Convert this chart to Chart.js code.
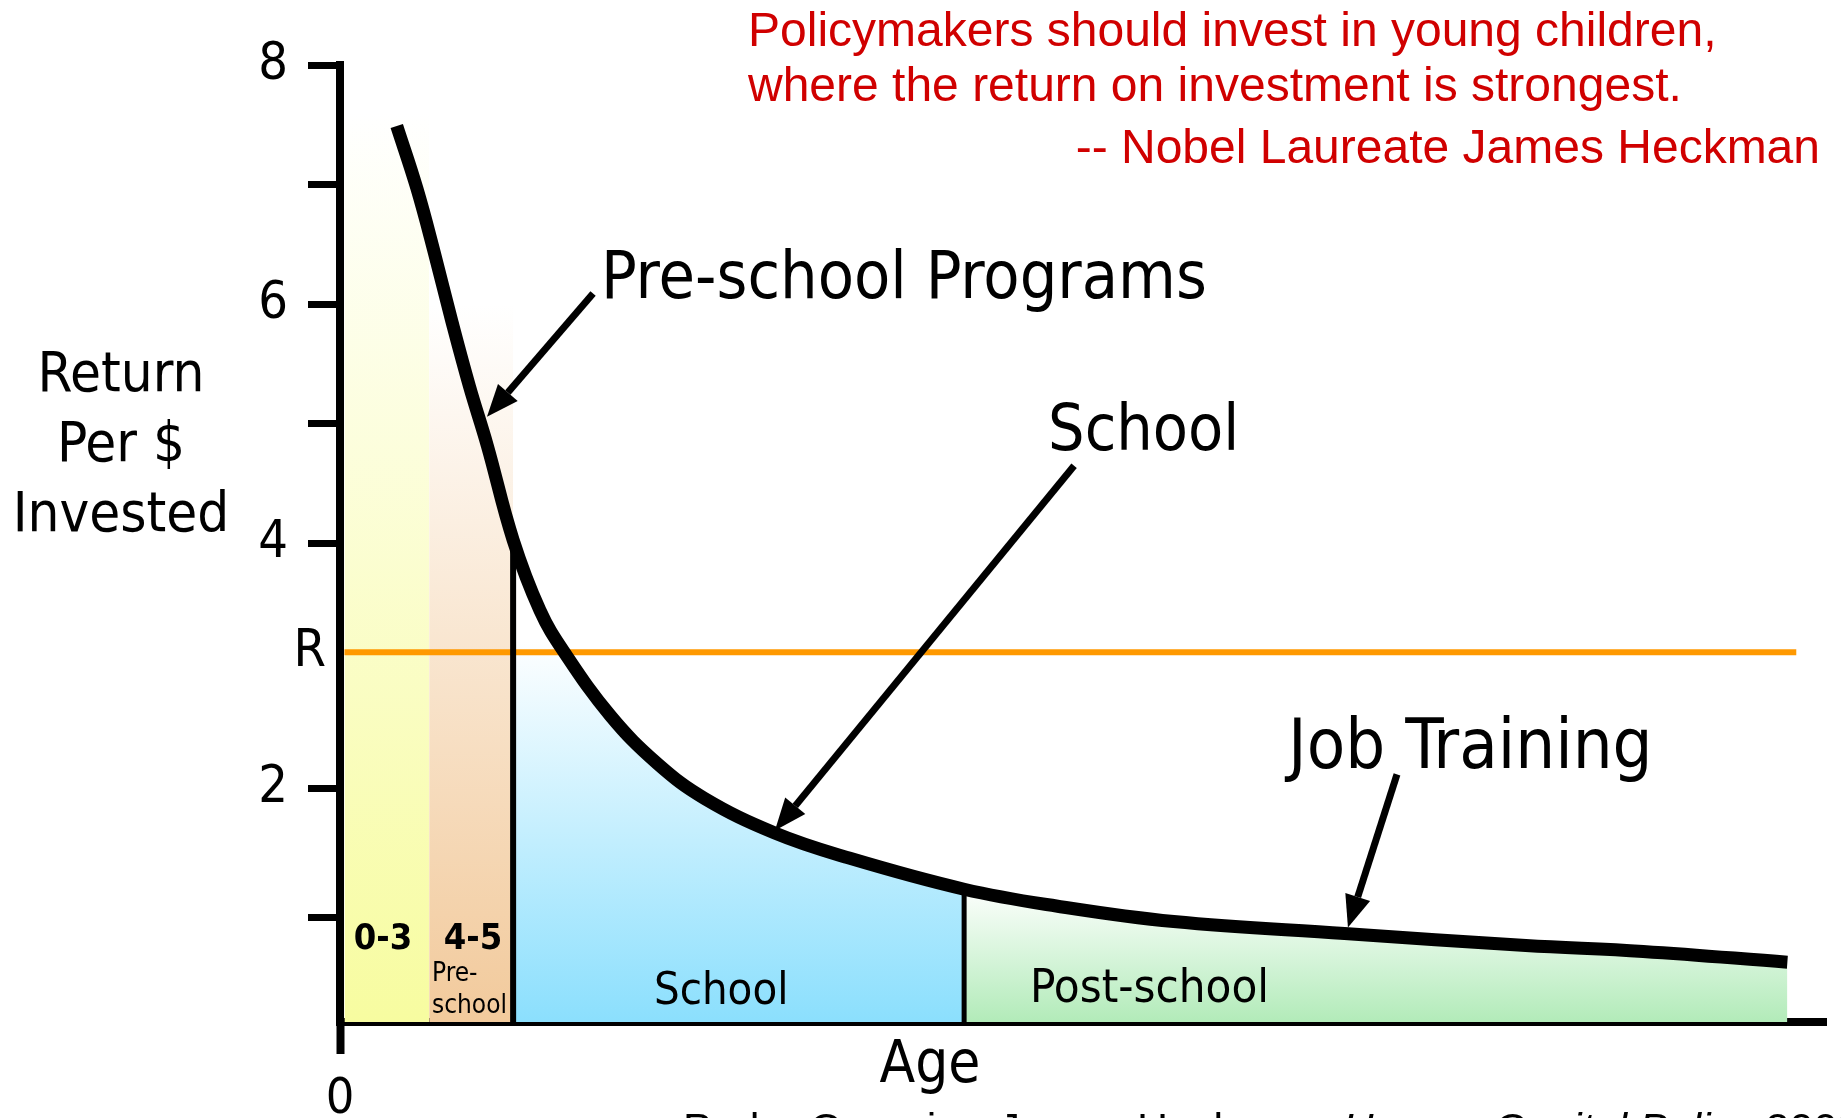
<!DOCTYPE html>
<html>
<head>
<meta charset="utf-8">
<title>Return per $ invested by age</title>
<script src="https://cdn.jsdelivr.net/npm/chart.js@4.4.1/dist/chart.umd.min.js"></script>
<style>
  html, body { margin: 0; padding: 0; background: #fff; }
  #wrap { width: 1841px; height: 1118px; }
</style>
</head>
<body>
<div id="wrap"><canvas id="chart" width="1841" height="1118"></canvas></div>
<script>
// ── Data ─────────────────────────────────────────────────────
const curveX = [3.82, 5.17, 6.35, 7.54, 8.72, 9.91, 11.65, 13.46, 15.04, 18.2, 21.36, 24.52, 29.26, 34.0, 42.0, 48.2, 56.1, 67.6, 79.8, 87.7, 97.4];
const curveY = [7.49, 6.97, 6.43, 5.85, 5.31, 4.82, 4.03, 3.44, 3.10, 2.56, 2.16, 1.87, 1.58, 1.38, 1.11, 0.97, 0.84, 0.74, 0.64, 0.59, 0.50];

const stageNames = ['0-3', '4-5', 'School', 'Post-school'];
const stageStart = [0.3, 6, 11.65, 42];
const stageEnd   = [6, 11.65, 42, 97.4];
const columnTop  = [7.6, 6.0];          // height of the two early-years columns

const returnR   = 3.09;                 // cost of funds "R"
const rLineEnd  = 98;

const yTickVals   = [0.87, 1.95, 4, 5, 6, 7, 8];
const yTickLabels = ['', '2', '4', '', '6', '', '8'];
const xTickVals   = [0];
const xTickLabels = ['0'];

// ── Helpers ──────────────────────────────────────────────────
const COND  = '"DejaVu Sans Condensed", "DejaVu Sans", sans-serif';
const ARIAL = '"Liberation Sans", Arial, sans-serif';

const curvePts = curveX.map((x, i) => ({ x, y: curveY[i] }));
const heightAt = x => curveY[curveX.indexOf(x)];
const between  = (a, b) => curvePts.filter(p => p.x >= a - 1e-6 && p.x <= b + 1e-6);

function gradient(top, stops) {
  return (c) => {
    const chart = c.chart, y = chart.scales.y;
    if (!chart.chartArea || !y) return stops[stops.length - 1][1];
    const g = chart.ctx.createLinearGradient(0, y.getPixelForValue(top), 0, y.getPixelForValue(0));
    stops.forEach(s => g.addColorStop(s[0], s[1]));
    return g;
  };
}

const yellowStops = [[0, '#ffffff'], [1, '#f7fca0']];
const peachStops  = [[0, '#ffffff'], [1, '#f2ca9c']];
const blueStops   = [[0, '#ffffff'], [1, '#8bdffd']];
const greenStops  = [[0, '#ffffff'], [1, '#b2ebb9']];

function areaSet(data, bg, order) {
  return { data, backgroundColor: bg, fill: 'origin', borderWidth: 0, pointRadius: 0, tension: 0.4, order };
}

function lineSet(data, color, width, order) {
  return {
    data, borderColor: color, borderWidth: width, fill: false,
    pointRadius: 0, borderCapStyle: 'butt', order
  };
}

// ── Annotation plugin (texts and arrows) ─────────────────────
function drawArrow(c, x1, y1, x2, y2) {
  const ang  = Math.atan2(y2 - y1, x2 - x1);
  const head = 32, half = 13;
  const bx = x2 - head * Math.cos(ang), by = y2 - head * Math.sin(ang);
  c.lineWidth = 7;
  c.lineCap = 'butt';
  c.beginPath(); c.moveTo(x1, y1); c.lineTo(bx, by); c.stroke();
  c.beginPath();
  c.moveTo(x2, y2);
  c.lineTo(bx + half * Math.sin(ang), by - half * Math.cos(ang));
  c.lineTo(bx - half * Math.sin(ang), by + half * Math.cos(ang));
  c.closePath(); c.fill();
}

const annotate = {
  id: 'annotate',
  afterDraw(chart) {
    const c = chart.ctx, xs = chart.scales.x, ys = chart.scales.y;
    const px = v => xs.getPixelForValue(v), py = v => ys.getPixelForValue(v);
    const text = (s, x, y, font, align, base, color) => {
      c.font = font; c.textAlign = align || 'left'; c.textBaseline = base || 'alphabetic';
      c.fillStyle = color || '#000'; c.fillText(s, x, y);
    };
    c.save();
    c.strokeStyle = '#000'; c.fillStyle = '#000';

    // arrows
    drawArrow(c, px(17.03), py(6.09), px(9.89), py(5.06));
    drawArrow(c, px(49.4), py(4.65), px(29.27), py(1.60));
    drawArrow(c, px(71.13), py(2.07), px(67.83), py(0.79));

    // callouts
    text('Pre-school Programs', px(17.56), py(6.05), '66px ' + COND);
    text('School', px(47.65), py(4.78), '64px ' + COND);
    text('Job Training', px(63.8), py(2.12), '70px ' + COND);

    // stage labels
    text(stageNames[0], px(2.9), py(0.69), 'bold 36px ' + COND, 'center', 'middle');
    text(stageNames[1], px(8.95), py(0.69), 'bold 36px ' + COND, 'center', 'middle');
    text('Pre-', px(6.19), py(0.40), '26px ' + COND, 'left', 'middle');
    text('school', px(6.19), py(0.13), '26px ' + COND, 'left', 'middle');
    text(stageNames[2], px(21.13), py(0.25), '45px ' + COND, 'left', 'middle');
    text(stageNames[3], px(46.43), py(0.27), '47px ' + COND, 'left', 'middle');

    // R marker
    text('R', px(0) - 14, py(returnR), '52px ' + COND, 'right', 'middle');

    // axis titles
    ['Return', 'Per $', 'Invested'].forEach((s, i) =>
      text(s, 121, 376 + i * 70, '56px ' + COND, 'center', 'middle'));
    text('Age', 930, 1082, '58px ' + COND, 'center');

    // quote
    const red = '#d00000';
    text('Policymakers should invest in young children,', 748, 46, '48px ' + ARIAL, 'left', 'alphabetic', red);
    text('where the return on investment is strongest.', 748, 101, '48px ' + ARIAL, 'left', 'alphabetic', red);
    text('-- Nobel Laureate James Heckman', 1820, 163, '48px ' + ARIAL, 'right', 'alphabetic', red);

    // source line, cut off by the bottom edge as on the slide
    let x = 683;
    const parts = [['Pedro Carneiro, James Heckman, ', ''], ['Human Capital Policy', 'italic '], [' 2003', '']];
    parts.forEach(([s, st]) => {
      text(s, x, 1143, st + '43px ' + ARIAL);
      x += c.measureText(s).width;
    });
    c.restore();
  }
};

// ── Chart ────────────────────────────────────────────────────
const ctx = document.getElementById('chart').getContext('2d');

new Chart(ctx, {
  type: 'line',
  data: {
    datasets: [
      // return curve on top
      { ...lineSet(curvePts, '#000', 13, 0), tension: 0.4 },
      // stage dividers
      lineSet([{ x: stageEnd[1], y: 0 }, { x: stageEnd[1], y: heightAt(stageEnd[1]) }], '#000', 6, 1),
      lineSet([{ x: stageEnd[2], y: 0 }, { x: stageEnd[2], y: heightAt(stageEnd[2]) }], '#000', 5, 1),
      // R line
      lineSet([{ x: stageStart[0], y: returnR }, { x: rLineEnd, y: returnR }], '#ff9900', 6, 2),
      // early years columns
      areaSet([{ x: stageStart[0], y: columnTop[0] }, { x: stageEnd[0], y: columnTop[0] }], gradient(columnTop[0], yellowStops), 3),
      areaSet([{ x: stageStart[1], y: columnTop[1] }, { x: stageEnd[1], y: columnTop[1] }], gradient(columnTop[1], peachStops), 4),
      // school and post-school shading under the curve
      areaSet(between(stageStart[2], stageEnd[2]), gradient(3.2, blueStops), 5),
      areaSet(between(stageStart[3], stageEnd[3]), gradient(1.15, greenStops), 6)
    ]
  },
  options: {
    responsive: false,
    animation: false,
    layout: { padding: { top: 65, right: 15, left: 0, bottom: 0 } },
    plugins: { legend: { display: false }, tooltip: { enabled: false } },
    scales: {
      x: {
        type: 'linear', min: 0, max: 100, z: 1,
        afterFit: s => { s.height = 96; },
        afterBuildTicks: s => { s.ticks = xTickVals.map(v => ({ value: v })); },
        grid: { drawOnChartArea: false, drawTicks: true, tickLength: 32, tickWidth: 8, tickColor: '#000' },
        border: { display: true, color: '#000', width: 8 },
        ticks: {
          autoSkip: false, padding: 16, color: '#000', maxRotation: 0,
          font: { family: COND, size: 50 },
          callback: (v, i) => xTickLabels[i]
        }
      },
      y: {
        type: 'linear', min: 0, max: 8, z: 1,
        afterFit: s => { s.width = 340; },
        afterBuildTicks: s => { s.ticks = yTickVals.map(v => ({ value: v })); },
        grid: { drawOnChartArea: false, drawTicks: true, tickLength: 32, tickWidth: 7, tickColor: '#000' },
        border: { display: true, color: '#000', width: 8 },
        ticks: {
          autoSkip: false, padding: 20, color: '#000',
          font: { family: COND, size: 52 },
          callback: (v, i) => yTickLabels[i]
        }
      }
    }
  },
  plugins: [annotate]
});
</script>
</body>
</html>
